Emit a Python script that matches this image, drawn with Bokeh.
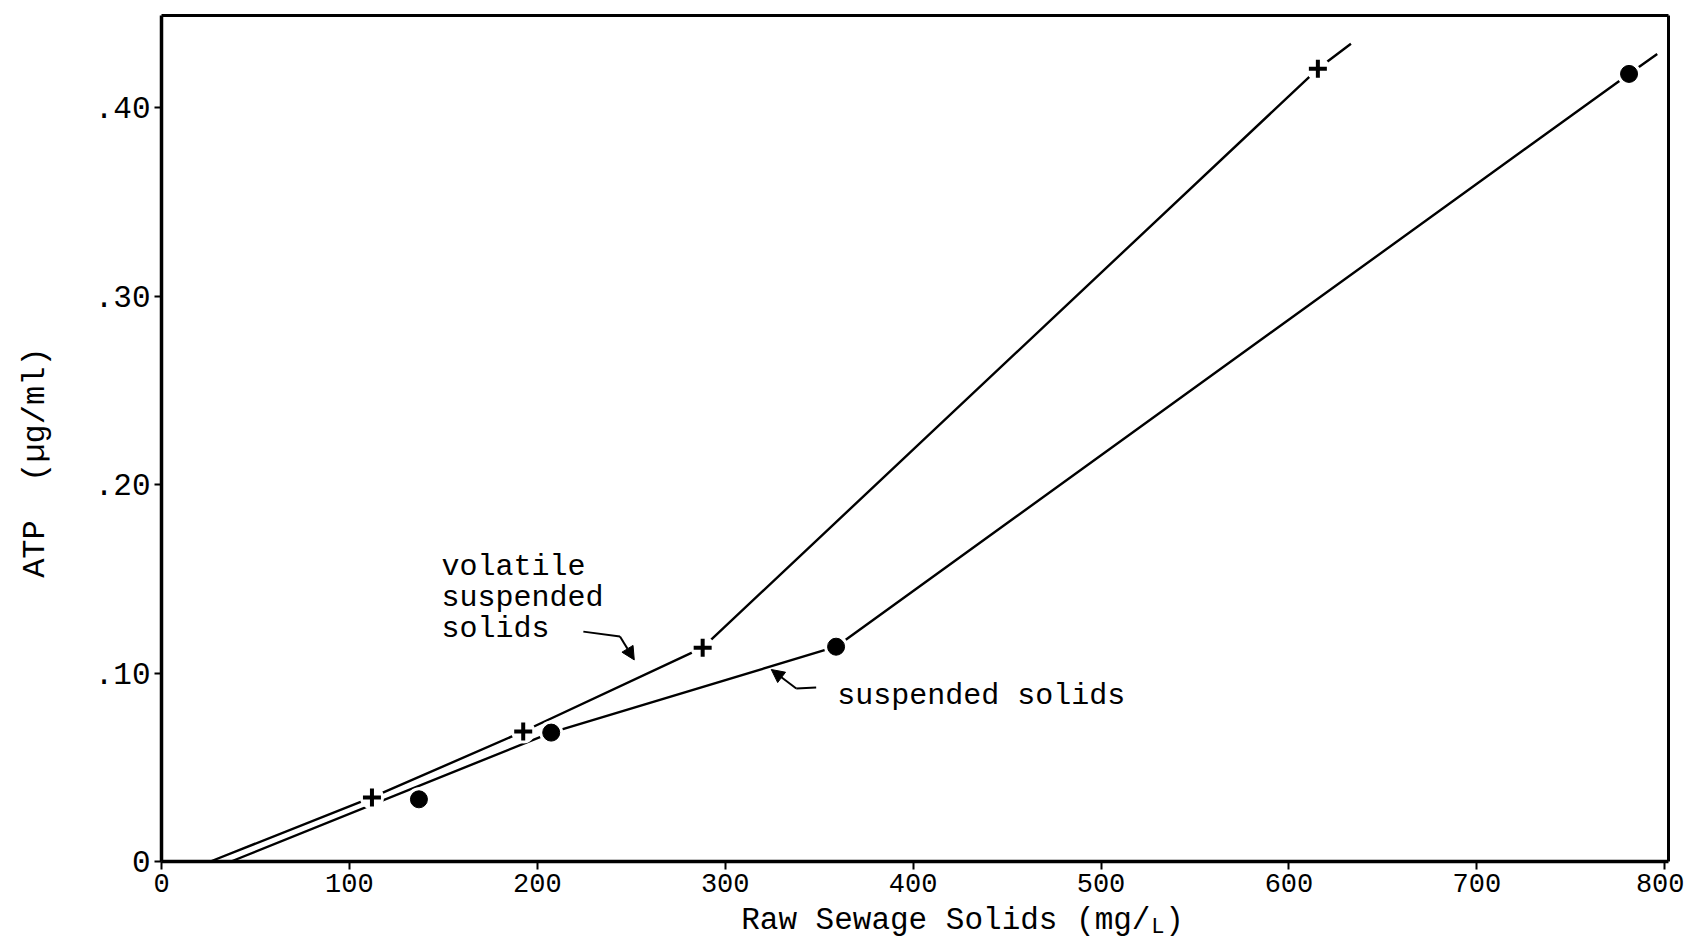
from bokeh.plotting import figure
from bokeh.models import (Range1d, FixedTicker, CustomJSTickFormatter, Label,
                          Arrow, NormalHead, LinearAxis)
from bokeh.embed import file_html
from bokeh.resources import INLINE

# ATP measured against raw sewage solids (mg/L)
vss_x = [112, 192.5, 288, 615.4]          # volatile suspended solids
vss_y = [0.034, 0.069, 0.1135, 0.4207]
ss_x = [137, 207.4, 359, 781]             # suspended solids
ss_y = [0.033, 0.0684, 0.114, 0.418]

# hand-drawn trend lines (x-intercept, bends, short extension past last point)
vss_line_x = [26, 112, 192.5, 288, 615.4, 633]
vss_line_y = [0.0, 0.034, 0.069, 0.1135, 0.4207, 0.434]
ss_line_x = [37, 207.4, 359, 781, 796]
ss_line_y = [0.0, 0.0684, 0.114, 0.418, 0.4286]

x_ticks = [0, 100, 200, 300, 400, 500, 600, 700, 800]
y_ticks = [0, 0.1, 0.2, 0.3, 0.4]

MONO = "Liberation Mono"
W, H = 1684, 947

# axes box: x 0..802, y 0..0.449, with room around it for labels
X_MAX, Y_MAX = 802, 0.449
LEFT, RIGHT, TOP, BOTTOM = 161, 16, 15, 86
sx = (W - LEFT - RIGHT) / X_MAX
sy = (H - TOP - BOTTOM) / Y_MAX

p = figure(width=W, height=H, output_backend="svg", toolbar_location=None,
           x_axis_type=None, y_axis_type=None,
           x_range=Range1d(-LEFT / sx, X_MAX + RIGHT / sx),
           y_range=Range1d(-BOTTOM / sy, Y_MAX + TOP / sy),
           min_border=0)
p.background_fill_color = "white"
p.border_fill_color = "white"
p.outline_line_color = None
p.grid.visible = False


def style_axis(ax):
    ax.axis_line_width = 3.5
    ax.axis_line_color = "black"
    ax.major_tick_line_color = "black"
    ax.major_tick_line_width = 2
    ax.major_tick_in = 0
    ax.minor_tick_line_color = None
    ax.major_label_text_font = MONO
    ax.major_label_text_color = "black"


xaxis = LinearAxis(fixed_location=0, bounds=(0, X_MAX), ticker=FixedTicker(ticks=x_ticks))
style_axis(xaxis)
xaxis.major_tick_out = 8
xaxis.major_label_standoff = 4
xaxis.major_label_text_font_size = "27px"
p.add_layout(xaxis, "below")

yaxis = LinearAxis(fixed_location=0, bounds=(0, Y_MAX), ticker=FixedTicker(ticks=y_ticks),
                   formatter=CustomJSTickFormatter(
                       code="return tick == 0 ? '0' : '.' + (tick * 100).toFixed(0);"))
style_axis(yaxis)
yaxis.major_tick_out = 7
yaxis.major_label_standoff = 4
yaxis.major_label_text_font_size = "31px"
p.add_layout(yaxis, "left")

# top and right edges of the box
top = LinearAxis(fixed_location=Y_MAX, bounds=(0, X_MAX), ticker=FixedTicker(ticks=[]))
right = LinearAxis(fixed_location=X_MAX, bounds=(0, Y_MAX), ticker=FixedTicker(ticks=[]))
for ax in (top, right):
    style_axis(ax)
    ax.axis_line_width = 3
    ax.major_tick_line_color = None
p.add_layout(top, "above")
p.add_layout(right, "right")

# trend lines
p.line(vss_line_x, vss_line_y, line_color="black", line_width=2.4)
p.line(ss_line_x, ss_line_y, line_color="black", line_width=2.4)

# white halos leave small gaps in the lines around each point
p.scatter(vss_x, vss_y, marker="circle", size=24, fill_color="white", line_color=None)
p.scatter(ss_x, ss_y, marker="circle", size=24, fill_color="white", line_color=None)

p.scatter(vss_x, vss_y, marker="cross", size=18, line_color="black", line_width=4)
p.scatter(ss_x, ss_y, marker="circle", size=17, fill_color="black", line_color="black")

# curve labels
text_style = dict(text_font=MONO, text_font_size="30px", text_color="black",
                  text_baseline="middle", text_align="left")
for i, word in enumerate(["volatile", "suspended", "solids"]):
    p.add_layout(Label(x=149, y=0.1565, y_offset=-31 * i, text=word, **text_style))
p.add_layout(Label(x=359.6, y=0.088, text="suspended solids", **text_style))

# pointer arrows
p.line([224.5, 244], [0.122, 0.1194], line_color="black", line_width=2)
p.add_layout(Arrow(x_start=244, y_start=0.1194, x_end=251.6, y_end=0.107,
                   line_width=2, end=NormalHead(size=13, fill_color="black",
                                                line_color="black")))
p.line([348.4, 337.8], [0.0923, 0.0918], line_color="black", line_width=2)
p.add_layout(Arrow(x_start=337.8, y_start=0.0918, x_end=324.5, y_end=0.1019,
                   line_width=2, end=NormalHead(size=13, fill_color="black",
                                                line_color="black")))

# axis titles
p.add_layout(Label(x=-67, y=0.2117, text="ATP\u00a0\u00a0(µg/ml)", angle=1.5708,
                   text_font=MONO, text_font_size="32px", text_color="black",
                   text_align="center", text_baseline="middle"))
xl = dict(x=308.5, y=-0.0313, text_font=MONO, text_color="black",
          text_align="left", text_baseline="middle")
p.add_layout(Label(text="Raw Sewage Solids (mg/", text_font_size="31px", **xl))
p.add_layout(Label(text="L", text_font_size="22px", x_offset=410, y_offset=-7, **xl))
p.add_layout(Label(text=")", text_font_size="31px", x_offset=424, **xl))

open("out.html", "w").write(file_html(p, INLINE))
